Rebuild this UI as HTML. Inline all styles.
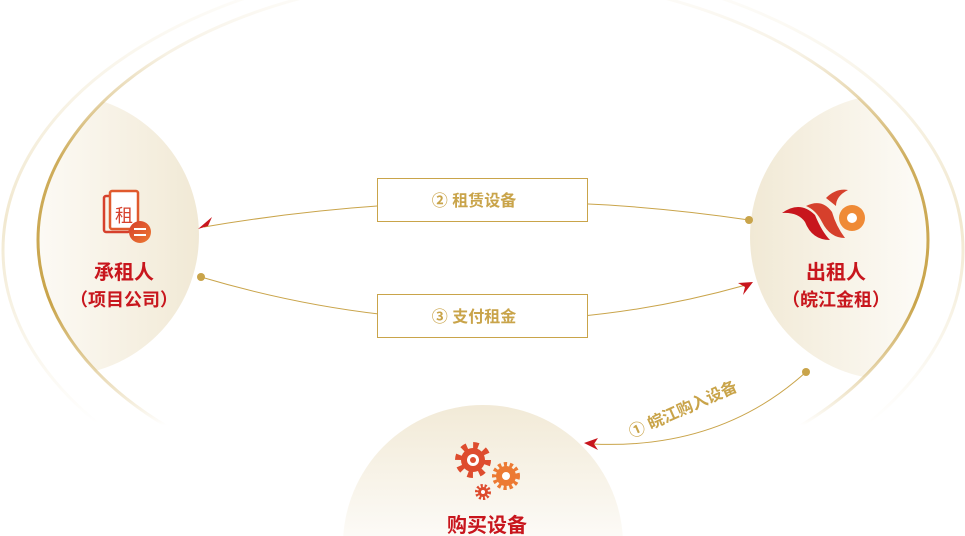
<!DOCTYPE html>
<html><head><meta charset="utf-8"><style>
html,body{margin:0;padding:0;background:#fff;width:965px;height:536px;overflow:hidden}
svg{display:block}
text{font-family:"Liberation Sans","Noto Sans CJK SC",sans-serif;font-weight:bold}
</style></head><body>
<svg width="965" height="536" viewBox="0 0 965 536">
<defs>
<clipPath id="ec"><ellipse cx="483" cy="240" rx="445" ry="265"/></clipPath>
<linearGradient id="ring" gradientUnits="userSpaceOnUse" x1="0" y1="-25" x2="0" y2="505">
<stop offset="0" stop-color="#c9a44a" stop-opacity="0"/>
<stop offset="0.15" stop-color="#c9a44a" stop-opacity="0.15"/>
<stop offset="0.35" stop-color="#c9a44a" stop-opacity="0.9"/>
<stop offset="0.62" stop-color="#c9a44a" stop-opacity="1"/>
<stop offset="0.85" stop-color="#c9a44a" stop-opacity="0"/>
</linearGradient>
<linearGradient id="ring2" gradientUnits="userSpaceOnUse" x1="0" y1="-40" x2="0" y2="540">
<stop offset="0" stop-color="#e8d9b0" stop-opacity="0"/>
<stop offset="0.45" stop-color="#e8d9b0" stop-opacity="0.6"/>
<stop offset="0.8" stop-color="#e8d9b0" stop-opacity="0"/>
</linearGradient>
<linearGradient id="cl" x1="0" y1="0" x2="1" y2="0">
<stop offset="0" stop-color="#fff" stop-opacity="0"/>
<stop offset="0.5" stop-color="#fbf8f1"/>
<stop offset="1" stop-color="#f1e9d5"/>
</linearGradient>
<linearGradient id="cr" x1="1" y1="0" x2="0" y2="0">
<stop offset="0" stop-color="#fff" stop-opacity="0"/>
<stop offset="0.5" stop-color="#fbf8f1"/>
<stop offset="1" stop-color="#f1e9d5"/>
</linearGradient>
<linearGradient id="cb" x1="0" y1="0" x2="0" y2="1">
<stop offset="0" stop-color="#f2ead7"/>
<stop offset="0.6" stop-color="#ffffff"/>
</linearGradient>
<linearGradient id="og" x1="0" y1="0" x2="1" y2="1">
<stop offset="0" stop-color="#d6402c"/><stop offset="1" stop-color="#ec7a33"/>
</linearGradient>
</defs>
<g clip-path="url(#ec)">
<circle cx="58" cy="235" r="141" fill="url(#cl)"/>
<circle cx="893" cy="237" r="143" fill="url(#cr)"/>
</g>
<circle cx="483" cy="545" r="140" fill="url(#cb)"/>
<ellipse cx="483" cy="250" rx="480" ry="290" fill="none" stroke="url(#ring2)" stroke-width="3"/>
<ellipse cx="483" cy="240" rx="445" ry="265" fill="none" stroke="url(#ring)" stroke-width="3"/>
<path d="M749 220 Q480 180 204 227" fill="none" stroke="#c9a44a" stroke-width="1"/>
<circle cx="749" cy="220" r="4" fill="#c9a44a"/>
<path d="M198 229 L212 217 L208 226 Z" fill="#c8161d"/>
<path d="M201 277 Q480 360 746 285" fill="none" stroke="#c9a44a" stroke-width="1"/>
<circle cx="201" cy="277" r="4" fill="#c9a44a"/>
<path d="M753 282 L738 283 L745 287 L743 295 Z" fill="#c8161d"/>
<path d="M806 372 Q720 450 592 444" fill="none" stroke="#c9a44a" stroke-width="1"/>
<circle cx="806" cy="372" r="4" fill="#c9a44a"/>
<path d="M584 443 L598 438 L594 444 L598 450 Z" fill="#c8161d"/>
<rect x="377.5" y="178.5" width="210" height="43" fill="#fff" stroke="#c9a44a"/>
<text x="474" y="206" font-size="16" fill="#c9a44a" text-anchor="middle">② 租赁设备</text>
<rect x="377.5" y="294.5" width="210" height="43" fill="#fff" stroke="#c9a44a"/>
<text x="474" y="322" font-size="16" fill="#c9a44a" text-anchor="middle">③ 支付租金</text>
<text x="0" y="0" font-size="16" fill="#c9a44a" transform="translate(632,438) rotate(-24)">① 皖江购入设备</text>
<rect x="104" y="196" width="26" height="36" rx="2" fill="none" stroke="#d6402c" stroke-width="2.5"/>
<rect x="110" y="191" width="28" height="38" rx="2" fill="#fff" stroke="#e05a2e" stroke-width="2.5"/>
<text x="124" y="222" font-size="18" fill="#d6402c" text-anchor="middle" style="font-weight:normal">租</text>
<circle cx="140" cy="232" r="11" fill="url(#og)"/>
<path d="M134 229 h12 M134 235 h12" stroke="#fff" stroke-width="2"/>
<text x="124" y="279" font-size="20" fill="#c8161d" text-anchor="middle">承租人</text>
<text x="124" y="306" font-size="18" fill="#c8161d" text-anchor="middle">（项目公司）</text>
<path d="M782 213 Q800 200 815 215 Q822 232 830 240 Q812 240 805 222 Q798 212 782 213Z" fill="#c8161d"/>
<path d="M806 206 Q822 198 832 212 Q836 226 845 238 Q830 238 822 222 Q816 210 806 206Z" fill="#d6402c"/>
<path d="M826 198 Q836 188 848 190 Q836 196 836 206 Z" fill="#d6402c"/>
<circle cx="852" cy="218" r="13" fill="#ef8a36"/>
<circle cx="852" cy="218" r="5" fill="#fff"/>
<text x="836" y="279" font-size="20" fill="#c8161d" text-anchor="middle">出租人</text>
<text x="836" y="306" font-size="18" fill="#c8161d" text-anchor="middle">（皖江金租）</text>
<circle cx="473" cy="460" r="14" fill="none" stroke="#de4c2e" stroke-width="8" stroke-dasharray="5 6"/>
<circle cx="473" cy="460" r="12" fill="#de4c2e"/>
<circle cx="473" cy="460" r="6" fill="#fff"/>
<circle cx="473" cy="460" r="3" fill="#de4c2e"/>
<circle cx="506" cy="476" r="11" fill="none" stroke="#ec7a33" stroke-width="6" stroke-dasharray="3 2.5"/>
<circle cx="506" cy="476" r="10" fill="#ec7a33"/>
<circle cx="506" cy="476" r="4" fill="#fff"/>
<circle cx="483" cy="492" r="6" fill="none" stroke="#de4c2e" stroke-width="4" stroke-dasharray="2 1.7"/>
<circle cx="483" cy="492" r="5" fill="#de4c2e"/>
<circle cx="483" cy="492" r="2" fill="#fff"/>
<text x="487" y="532" font-size="20" fill="#c8161d" text-anchor="middle">购买设备</text>
</svg>
</body></html>
